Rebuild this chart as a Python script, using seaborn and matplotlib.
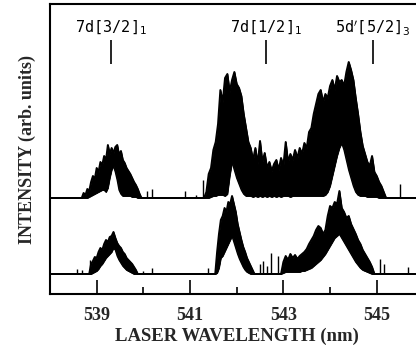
import numpy as np
import pandas as pd
import matplotlib
matplotlib.use("Agg")
import matplotlib.pyplot as plt
import seaborn as sns

# ---------------- data (heights in arbitrary units) -------------
# upper spectrum: wavelength (nm), top and bottom of the noisy band
upper_wl = [538.00, 538.68, 538.72, 538.76, 538.80, 538.84, 538.88, 538.92, 538.96, 539.00,
            539.04, 539.08, 539.12, 539.16, 539.20, 539.24, 539.28, 539.32, 539.36, 539.40,
            539.44, 539.48, 539.52, 539.56, 539.60, 539.64, 539.68, 539.72, 539.76, 539.80,
            539.84, 539.88, 539.92, 539.96,
            541.30, 541.35, 541.40, 541.45, 541.50, 541.55, 541.60, 541.65, 541.70, 541.75,
            541.80, 541.85, 541.90, 541.95, 542.00, 542.05, 542.10, 542.15, 542.20, 542.25,
            542.30, 542.35, 542.40, 542.45, 542.50, 542.55, 542.60, 542.65, 542.70, 542.75,
            542.80, 542.85, 542.90, 542.95, 543.00, 543.05, 543.10, 543.15, 543.20, 543.25,
            543.30, 543.35, 543.40, 543.45, 543.50, 543.55, 543.60, 543.65, 543.70, 543.75,
            543.80, 543.85, 543.90, 543.95, 544.00, 544.05, 544.10, 544.15, 544.20, 544.25,
            544.30, 544.35, 544.40, 544.45, 544.50, 544.55, 544.60, 544.65, 544.70, 544.75,
            544.80, 544.85, 544.90, 544.95, 545.00, 545.05, 545.10, 545.15, 545.20, 546.00]
upper_top = [0, 0, 5, 3, 9, 7, 16, 22, 19, 30,
             26, 36, 33, 42, 38, 53, 44, 50, 45, 51,
             53, 43, 47, 38, 35, 30, 27, 24, 20, 16,
             13, 9, 4, 0,
             0, 6, 24, 30, 48, 56, 74, 108, 96, 120,
             124, 106, 118, 126, 114, 110, 102, 84, 70, 56,
             50, 38, 50, 34, 57, 36, 45, 30, 36, 27,
             34, 38, 28, 40, 32, 56, 36, 44, 38, 48,
             40, 50, 44, 55, 50, 66, 70, 84, 94, 104,
             108, 96, 104, 100, 112, 118, 108, 122, 116, 118,
             112, 126, 136, 128, 118, 100, 84, 66, 52, 44,
             36, 32, 42, 26, 22, 16, 12, 6, 0, 0]
upper_bot = [0, 0, 0, 0, 0, 1, 2, 3, 4, 5,
             6, 7, 8, 8, 6, 10, 20, 28, 32, 26,
             18, 8, 4, 2, 2, 2, 2, 2, 1, 1,
             1, 0, 0, 0,
             0, 0, 0, 1, 2, 2, 3, 3, 3, 2,
             4, 22, 36, 28, 20, 14, 8, 4, 2, 2,
             2, 1, 2, 1, 2, 1, 2, 1, 2, 1,
             2, 1, 2, 1, 2, 2, 2, 1, 2, 2,
             2, 2, 2, 2, 2, 2, 2, 2, 2, 2,
             2, 2, 3, 6, 12, 22, 32, 42, 50, 55,
             48, 38, 28, 20, 12, 6, 3, 2, 2, 2,
             1, 1, 1, 1, 1, 0, 0, 0, 0, 0]

# lower spectrum
lower_wl = [538.00, 538.84, 538.88, 538.92, 538.96, 539.00, 539.04, 539.08, 539.12, 539.16,
            539.20, 539.24, 539.28, 539.32, 539.36, 539.40, 539.44, 539.48, 539.52, 539.56,
            539.60, 539.64, 539.68, 539.72, 539.76, 539.80, 539.84, 539.88,
            541.54, 541.58, 541.62, 541.66, 541.70, 541.74, 541.78, 541.82, 541.86, 541.90,
            541.94, 541.98, 542.02, 542.06, 542.10, 542.14, 542.18, 542.22, 542.26, 542.30,
            542.34, 542.38,
            542.95, 543.00, 543.05, 543.10, 543.15, 543.20, 543.25, 543.30, 543.35, 543.40,
            543.45, 543.50, 543.55, 543.60, 543.65, 543.70, 543.75, 543.80, 543.85, 543.90,
            543.95, 544.00, 544.05, 544.10, 544.15, 544.20, 544.25, 544.30, 544.35, 544.40,
            544.45, 544.50, 544.55, 544.60, 544.65, 544.70, 544.75, 544.80, 544.85, 544.90,
            544.95, 546.00]
lower_top = [0, 0, 10, 13, 17, 16, 22, 26, 24, 30,
             34, 32, 37, 38, 42, 36, 31, 28, 26, 22,
             20, 16, 14, 12, 10, 7, 4, 0,
             0, 22, 40, 54, 58, 66, 62, 72, 70, 78,
             70, 62, 50, 42, 34, 27, 22, 16, 12, 8,
             4, 0,
             0, 12, 18, 14, 20, 16, 19, 15, 18, 20,
             22, 25, 30, 34, 38, 44, 48, 46, 40, 44,
             58, 68, 66, 72, 70, 83, 66, 62, 56, 58,
             50, 45, 40, 34, 30, 24, 20, 16, 12, 7,
             0, 0]
lower_bot = [0, 0, 0, 1, 2, 3, 5, 8, 10, 13,
             16, 18, 20, 22, 26, 24, 18, 14, 11, 8,
             6, 4, 3, 2, 1, 0, 0, 0,
             0, 1, 6, 16, 18, 22, 26, 30, 34, 38,
             32, 26, 20, 15, 11, 7, 4, 2, 1, 0,
             0, 0,
             0, 1, 2, 2, 2, 2, 2, 2, 2, 3,
             3, 4, 5, 6, 8, 10, 12, 14, 17, 20,
             24, 28, 32, 36, 38, 40, 36, 32, 28, 24,
             20, 16, 12, 9, 6, 4, 3, 2, 1, 0,
             0, 0]

# isolated noise spikes on the flat baselines
upper_spike_wl = [540.07, 540.19, 540.89, 541.13, 541.27, 545.50]
upper_spike_h = [7, 9, 7, 3, 18, 14]
lower_spike_wl = [538.57, 538.68, 538.86, 540.00, 540.18, 541.39, 542.50, 542.57,
                  542.65, 542.73, 542.88, 545.06, 545.15, 545.68]
lower_spike_h = [5, 4, 14, 3, 6, 6, 10, 13, 8, 21, 18, 15, 10, 7]

# transition markers
marker_wl = [539.31, 542.62, 544.92]
marker_labels = [r"7d[3/2]$_{1}$", r"7d[1/2]$_{1}$", r"5d$^{\prime}$[5/2]$_{3}$"]

xticks_major = [539, 541, 543, 545]
xticks_minor = [540, 542, 544]

# ---------------- layout -------------
UPPER_OFFSET = 96
LOWER_OFFSET = 20

assert len(upper_wl) == len(upper_top) == len(upper_bot)
assert len(lower_wl) == len(lower_top) == len(lower_bot)

sns.set_style("white")
plt.rcParams["mathtext.fontset"] = "dejavusans"

fig = plt.figure(figsize=(4.16, 3.52), dpi=100)
ax = fig.add_axes([50 / 416, 58 / 352, 373.4 / 416, 290 / 352])

df = pd.concat([
    pd.DataFrame({"wl": upper_wl, "top": np.array(upper_top) + UPPER_OFFSET,
                  "bot": np.array(upper_bot) + UPPER_OFFSET, "trace": "upper"}),
    pd.DataFrame({"wl": lower_wl, "top": np.array(lower_top) + LOWER_OFFSET,
                  "bot": np.array(lower_bot) + LOWER_OFFSET, "trace": "lower"}),
], ignore_index=True)

for name, g in df.groupby("trace"):
    ax.fill_between(g["wl"], g["bot"], g["top"], color="black", lw=0.6)
sns.lineplot(data=df, x="wl", y="top", units="trace", estimator=None,
             color="black", lw=1.4, ax=ax, sort=False)
sns.lineplot(data=df, x="wl", y="bot", units="trace", estimator=None,
             color="black", lw=1.0, ax=ax, sort=False)

ax.vlines(upper_spike_wl, UPPER_OFFSET, UPPER_OFFSET + np.array(upper_spike_h),
          color="black", lw=1.0)
ax.vlines(lower_spike_wl, LOWER_OFFSET, LOWER_OFFSET + np.array(lower_spike_h),
          color="black", lw=1.0)

# transition markers and labels
ax.vlines(marker_wl, 230, 254, color="black", lw=1.2)
for w, lab in zip(marker_wl, marker_labels):
    ax.text(w, 262, lab, ha="center", va="baseline", fontsize=11,
            family="DejaVu Sans Mono", color="black")

ax.set_xlim(538.0, 546.0)
ax.set_ylim(0, 290)
ax.set_xticks(xticks_major)
ax.set_xticks(xticks_minor, minor=True)
ax.set_yticks([])
ax.set_xticklabels([str(t) for t in xticks_major], fontsize=13,
                   family="Liberation Serif", fontweight="bold")
ax.tick_params(axis="x", which="major", direction="in", length=10, width=1.4,
               pad=9, bottom=True, top=False)
ax.tick_params(axis="x", which="minor", direction="in", length=5, width=1.4,
               bottom=True, top=False)

for side in ["left", "top", "bottom"]:
    ax.spines[side].set_visible(True)
    ax.spines[side].set_linewidth(1.5)
    ax.spines[side].set_color("black")
ax.spines["right"].set_visible(False)

ax.set_xlabel("LASER WAVELENGTH (nm)", fontsize=13.5, family="Liberation Serif",
              fontweight="bold", labelpad=3)
ax.set_ylabel("INTENSITY (arb. units)", fontsize=13, family="Liberation Serif",
              fontweight="bold", labelpad=10)

fig.savefig("out.png", dpi=100)
